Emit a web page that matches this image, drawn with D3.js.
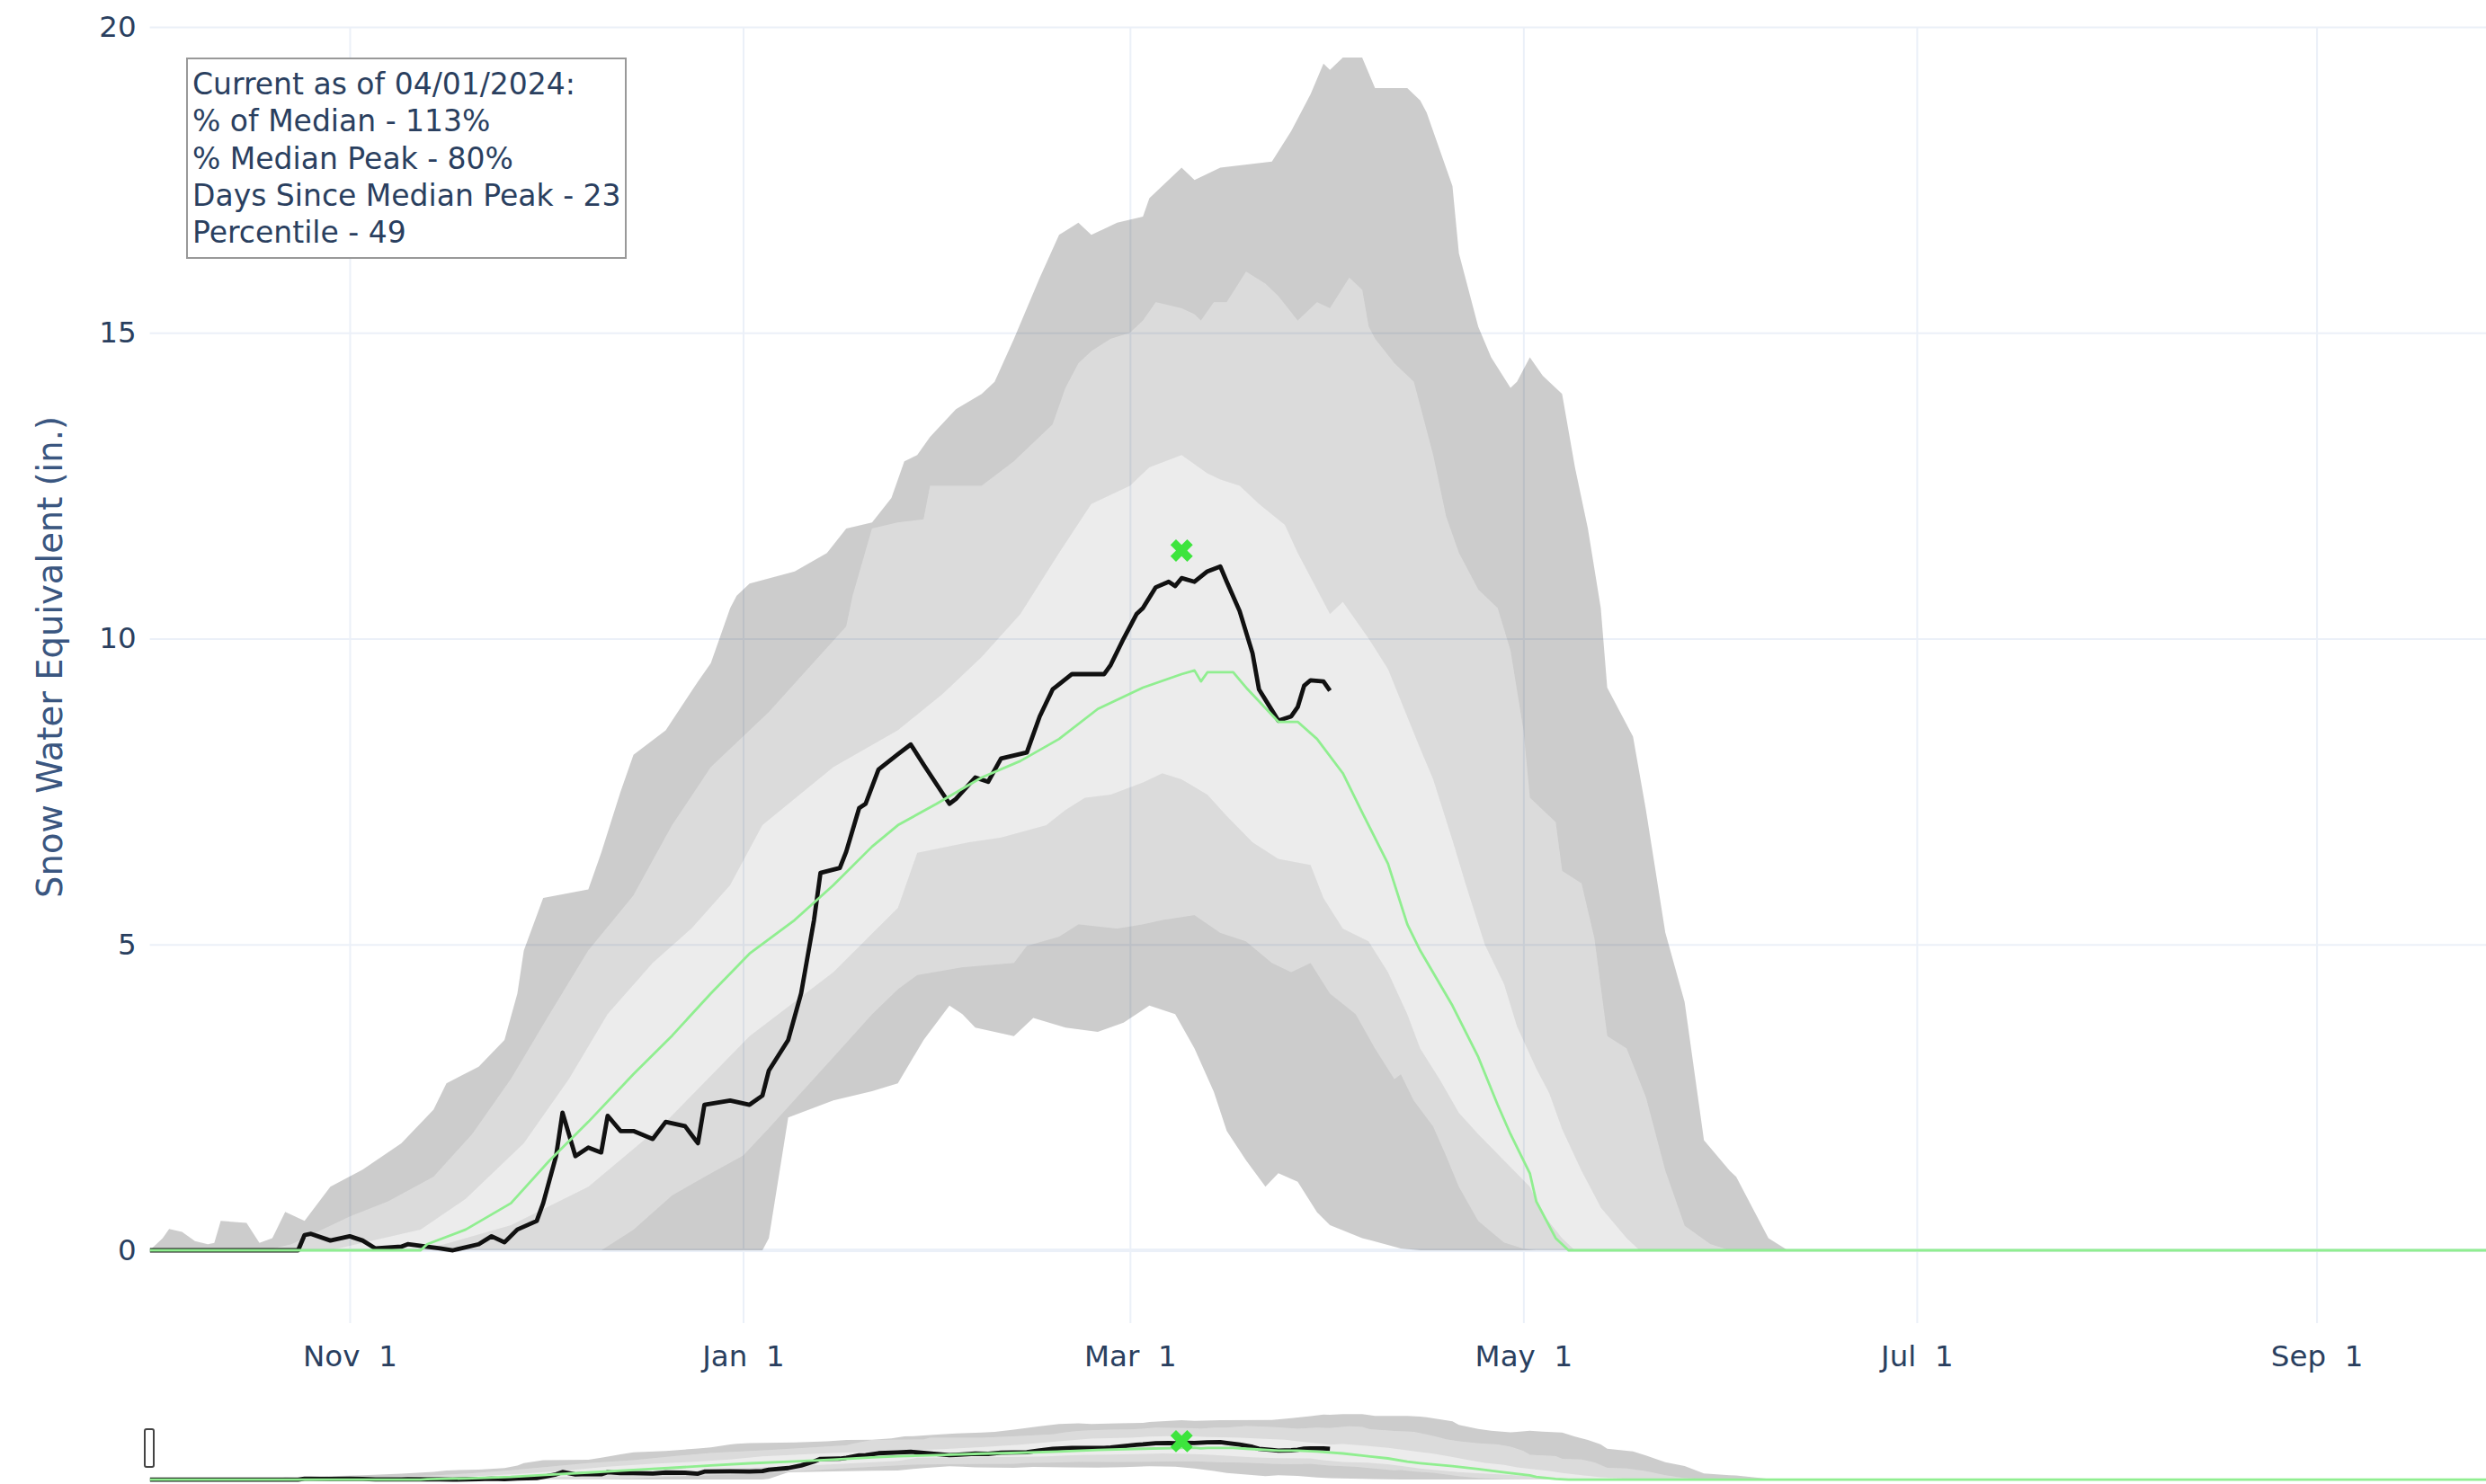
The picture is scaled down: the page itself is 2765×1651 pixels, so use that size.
<!DOCTYPE html>
<html>
<head>
<meta charset="utf-8">
<script src="https://cdn.jsdelivr.net/npm/d3@7"></script>
<style>
  body { margin: 0; background: #fff; }
  svg { display: block; font-family: "DejaVu Sans", Verdana, sans-serif; }
</style>
</head>
<body>
<svg id="chart" width="2765" height="1651"></svg>
<script>
// water year 2024 (Oct 2023 - Sep 2024), dates as MM-DD
const waterYear = 2024;

const maxSwe = [["10-01",0],["10-03",0.2],["10-04",0.35],["10-06",0.3],["10-08",0.15],["10-10",0.1],["10-11",0.12],["10-12",0.48],["10-16",0.45],["10-18",0.12],["10-20",0.2],["10-22",0.63],["10-25",0.48],["10-29",1.04],["11-03",1.32],["11-09",1.75],["11-14",2.3],["11-16",2.73],["11-21",3.0],["11-25",3.44],["11-27",4.2],["11-28",4.9],["12-01",5.76],["12-08",5.9],["12-10",6.5],["12-13",7.5],["12-15",8.1],["12-20",8.5],["12-25",9.3],["12-27",9.6],["12-30",10.5],["12-31",10.7],["01-02",10.9],["01-09",11.1],["01-14",11.4],["01-17",11.8],["01-21",11.9],["01-24",12.3],["01-26",12.9],["01-28",13.0],["01-30",13.3],["02-03",13.75],["02-07",14.0],["02-09",14.2],["02-12",14.9],["02-16",15.9],["02-19",16.6],["02-22",16.8],["02-24",16.6],["02-28",16.8],["03-03",16.9],["03-04",17.2],["03-09",17.7],["03-11",17.5],["03-15",17.7],["03-23",17.8],["03-26",18.3],["03-29",18.9],["03-31",19.4],["04-01",19.3],["04-03",19.5],["04-06",19.5],["04-08",19.0],["04-13",19.0],["04-15",18.8],["04-16",18.6],["04-20",17.4],["04-21",16.3],["04-24",15.1],["04-26",14.6],["04-29",14.1],["04-30",14.2],["05-02",14.6],["05-04",14.3],["05-07",14.0],["05-09",12.8],["05-11",11.8],["05-13",10.5],["05-14",9.2],["05-18",8.4],["05-20",7.2],["05-23",5.2],["05-26",4.06],["05-29",1.8],["06-02",1.3],["06-03",1.2],["06-06",0.6],["06-08",0.2],["06-11",0],["09-30",0]];

const p90 = [["10-01",0],["10-19",0],["10-23",0.1],["10-26",0.25],["11-01",0.55],["11-07",0.8],["11-14",1.2],["11-20",1.9],["11-26",2.8],["12-02",3.86],["12-08",4.9],["12-15",5.8],["12-21",6.95],["12-27",7.9],["01-05",8.8],["01-17",10.2],["01-18",10.7],["01-21",11.8],["01-25",11.9],["01-29",11.95],["01-30",12.5],["02-07",12.5],["02-12",12.9],["02-18",13.5],["02-20",14.1],["02-22",14.5],["02-24",14.7],["02-27",14.9],["03-01",15.0],["03-03",15.2],["03-05",15.5],["03-09",15.4],["03-11",15.3],["03-12",15.2],["03-14",15.5],["03-16",15.5],["03-19",16.0],["03-22",15.8],["03-24",15.6],["03-27",15.2],["03-30",15.5],["04-01",15.4],["04-04",15.9],["04-06",15.7],["04-07",15.1],["04-08",14.9],["04-11",14.5],["04-14",14.2],["04-17",13.0],["04-19",12.0],["04-21",11.4],["04-24",10.8],["04-27",10.5],["04-29",9.8],["05-01",8.5],["05-02",7.4],["05-06",7.0],["05-07",6.2],["05-10",6.0],["05-12",5.1],["05-14",3.5],["05-17",3.3],["05-20",2.5],["05-23",1.3],["05-26",0.4],["05-30",0.1],["06-02",0],["09-30",0]];

const p70 = [["10-01",0],["10-29",0],["11-12",0.34],["11-19",0.84],["11-28",1.75],["12-05",2.8],["12-11",3.86],["12-18",4.7],["12-24",5.26],["12-30",5.97],["01-04",6.95],["01-15",7.9],["01-25",8.5],["02-01",9.1],["02-07",9.7],["02-13",10.4],["02-19",11.4],["02-24",12.2],["03-01",12.5],["03-04",12.8],["03-09",13.0],["03-13",12.7],["03-15",12.6],["03-18",12.5],["03-21",12.2],["03-25",11.86],["03-27",11.4],["03-30",10.8],["04-01",10.4],["04-03",10.6],["04-07",10.0],["04-10",9.5],["04-15",8.2],["04-17",7.7],["04-20",6.7],["04-22",6.0],["04-25",5.0],["04-28",4.35],["04-30",3.66],["05-03",2.97],["05-05",2.57],["05-07",1.98],["05-10",1.3],["05-13",0.7],["05-17",0.2],["05-19",0],["09-30",0]];

const p30 = [["10-01",0],["11-10",0],["11-14",0.05],["11-26",0.41],["12-08",1.04],["12-20",2.1],["01-02",3.5],["01-15",4.55],["01-25",5.6],["01-28",6.5],["02-05",6.67],["02-10",6.75],["02-17",6.95],["02-20",7.2],["02-23",7.4],["02-27",7.45],["03-03",7.65],["03-06",7.8],["03-09",7.7],["03-13",7.45],["03-16",7.1],["03-20",6.67],["03-24",6.4],["03-29",6.3],["03-31",5.76],["04-03",5.26],["04-07",5.05],["04-10",4.55],["04-13",3.86],["04-15",3.3],["04-18",2.8],["04-21",2.25],["04-24",1.9],["04-28",1.47],["05-02",1.04],["05-04",0.6],["05-07",0.2],["05-09",0],["09-30",0]];

const p10 = [["10-01",0],["12-10",0],["12-15",0.34],["12-21",0.9],["12-27",1.26],["01-01",1.55],["01-05",2.0],["01-15",3.16],["01-21",3.86],["01-25",4.27],["01-28",4.5],["02-04",4.63],["02-12",4.7],["02-14",4.98],["02-19",5.13],["02-22",5.33],["02-28",5.26],["03-03",5.33],["03-06",5.4],["03-11",5.48],["03-15",5.19],["03-19",5.05],["03-23",4.7],["03-26",4.55],["03-29",4.7],["04-01",4.2],["04-05",3.86],["04-08",3.3],["04-11",2.8],["04-12",2.88],["04-14",2.45],["04-17",2.03],["04-19",1.55],["04-21",1.04],["04-24",0.48],["04-28",0.13],["05-01",0.03],["05-03",0],["09-30",0]];

const minSwe = [["10-01",0],["01-04",0],["01-05",0.2],["01-08",2.17],["01-15",2.45],["01-21",2.6],["01-25",2.73],["01-29",3.44],["02-02",4.0],["02-04",3.86],["02-06",3.64],["02-12",3.5],["02-15",3.8],["02-20",3.64],["02-25",3.57],["02-29",3.72],["03-04",4.0],["03-08",3.86],["03-11",3.3],["03-14",2.59],["03-16",1.95],["03-19",1.47],["03-22",1.04],["03-24",1.26],["03-27",1.12],["03-30",0.62],["04-01",0.41],["04-06",0.2],["04-12",0.03],["04-15",0],["09-30",0]];

const median = [["10-01",0],["11-12",0],["11-13",0.1],["11-19",0.34],["11-26",0.77],["12-02",1.47],["12-08",2.1],["12-15",2.88],["12-21",3.51],["12-27",4.2],["01-02",4.85],["01-09",5.4],["01-15",5.97],["01-21",6.6],["01-25",6.95],["01-31",7.3],["02-07",7.73],["02-13",8.0],["02-19",8.36],["02-25",8.85],["03-03",9.2],["03-09",9.42],["03-11",9.48],["03-12",9.3],["03-13",9.45],["03-17",9.45],["03-19",9.2],["03-24",8.64],["03-27",8.64],["03-30",8.36],["04-03",7.8],["04-06",7.16],["04-10",6.32],["04-13",5.33],["04-15",4.9],["04-20",4.0],["04-24",3.16],["04-27",2.38],["04-29",1.9],["05-02",1.26],["05-03",0.8],["05-06",0.2],["05-08",0],["09-30",0]];

const current = [["10-01",0],["10-24",0],["10-25",0.25],["10-26",0.27],["10-29",0.16],["11-01",0.23],["11-03",0.16],["11-05",0.03],["11-09",0.06],["11-10",0.1],["11-15",0.03],["11-17",0],["11-21",0.1],["11-23",0.23],["11-25",0.13],["11-27",0.34],["11-30",0.48],["12-01",0.77],["12-03",1.54],["12-04",2.25],["12-06",1.54],["12-08",1.68],["12-10",1.6],["12-11",2.2],["12-13",1.95],["12-15",1.95],["12-18",1.82],["12-20",2.1],["12-23",2.03],["12-25",1.75],["12-26",2.38],["12-30",2.45],["01-02",2.38],["01-04",2.53],["01-05",2.94],["01-08",3.44],["01-10",4.2],["01-12",5.4],["01-13",6.17],["01-16",6.25],["01-17",6.52],["01-19",7.23],["01-20",7.3],["01-22",7.86],["01-25",8.11],["01-27",8.27],["01-29",7.94],["02-02",7.3],["02-03",7.38],["02-06",7.73],["02-08",7.66],["02-10",8.04],["02-14",8.14],["02-16",8.73],["02-18",9.17],["02-21",9.42],["02-26",9.42],["02-27",9.57],["02-29",10.0],["03-02",10.4],["03-03",10.5],["03-05",10.84],["03-07",10.93],["03-08",10.86],["03-09",10.99],["03-11",10.93],["03-13",11.1],["03-15",11.18],["03-16",10.93],["03-18",10.45],["03-20",9.76],["03-21",9.17],["03-23",8.83],["03-24",8.66],["03-26",8.73],["03-27",8.88],["03-28",9.23],["03-29",9.32],["03-31",9.3],["04-01",9.15]];

const medianPeak = [["03-09", 11.44]];

const statLines = [
  "Current as of 04/01/2024:",
  "% of Median - 113%",
  "% Median Peak - 80%",
  "Days Since Median Peak - 23",
  "Percentile - 49"
];
const yTicks = [0, 5, 10, 15, 20];

// band definitions: upper, lower, fill
const bands = [
  [maxSwe, p90, "rgba(0,0,0,0.2)"],
  [p90, p70, "rgba(0,0,0,0.14)"],
  [p70, p30, "rgba(0,0,0,0.075)"],
  [p30, p10, "rgba(0,0,0,0.14)"],
  [p10, minSwe, "rgba(0,0,0,0.2)"]
];

function parseDay(s) {
  const [m, d] = s.split("-").map(Number);
  return new Date(Date.UTC(m >= 10 ? waterYear - 1 : waterYear, m - 1, d));
}
const toPts = arr => arr.map(([d, v]) => ({date: parseDay(d), value: v}));

var svg = d3.select("#chart");
var plotLeft = 166.6, plotRight = 2784.6, plotTop = 30, plotBottom = 1472;
var textColor = "#2a3f5f";

var x = d3.scaleUtc()
    .domain([new Date(Date.UTC(2023, 9, 1)), new Date(Date.UTC(2024, 8, 30))])
    .range([plotLeft, plotRight]);
var y = d3.scaleLinear().domain([-1.19, 20]).range([plotBottom, plotTop]);
var ySlider = d3.scaleLinear().domain([-1.19, 20]).range([1650.5, 1571.5]);

var defs = svg.append("defs");
defs.append("clipPath").attr("id", "clipMain")
  .append("rect").attr("x", plotLeft).attr("y", plotTop)
  .attr("width", plotRight - plotLeft).attr("height", plotBottom - plotTop);
defs.append("clipPath").attr("id", "clipSlider")
  .append("rect").attr("x", plotLeft).attr("y", 1571)
  .attr("width", plotRight - plotLeft).attr("height", 80);

// grid
svg.append("g")
    .attr("transform", "translate(0," + plotBottom + ")")
    .call(d3.axisBottom(x).ticks(d3.utcMonth.every(2)).tickSize(-(plotBottom - plotTop)).tickFormat(""))
    .call(g => g.select(".domain").remove())
    .call(g => g.selectAll("line").attr("stroke", "#ebf0f8").attr("stroke-width", 2));
svg.append("g")
    .attr("transform", "translate(" + plotLeft + ",0)")
    .call(d3.axisLeft(y).tickValues(yTicks.filter(t => t !== 0)).tickSize(-(plotRight - plotLeft)).tickFormat(""))
    .call(g => g.select(".domain").remove())
    .call(g => g.selectAll("line").attr("stroke", "#ebf0f8").attr("stroke-width", 2));
svg.append("line")
    .attr("x1", plotLeft).attr("x2", plotRight)
    .attr("y1", y(0)).attr("y2", y(0))
    .attr("stroke", "#ebf0f8").attr("stroke-width", 4);

function xMarkPath(r) {
  var rx = r * 0.8 / Math.sqrt(2);
  var ne = "l" + rx + "," + rx, se = "l" + rx + ",-" + rx,
      sw = "l-" + rx + ",-" + rx, nw = "l-" + rx + "," + rx;
  return "M0," + rx + ne + se + sw + se + sw + nw + sw + nw + ne + nw + ne + "Z";
}

function drawTraces(g, ys) {
  var line = d3.line().x(d => x(d.date)).y(d => ys(d.value));
  bands.forEach(([upper, lower, fill]) => {
    var pts = toPts(upper).concat(toPts(lower).reverse());
    g.append("path").attr("d", line(pts) + "Z").attr("fill", fill).attr("stroke", "none");
  });
  g.append("path").datum(toPts(current))
    .attr("d", line).attr("fill", "none")
    .attr("stroke", "#111").attr("stroke-width", 4.8).attr("stroke-linejoin", "round");
  g.append("path").datum(toPts(median))
    .attr("d", line).attr("fill", "none")
    .attr("stroke", "#90ee90").attr("stroke-width", 2.8).attr("stroke-linejoin", "round");
  g.selectAll(".peak").data(toPts(medianPeak)).enter()
    .append("path")
    .attr("transform", d => "translate(" + x(d.date) + "," + ys(d.value) + ")")
    .attr("d", xMarkPath(11))
    .attr("fill", "#3de43d");
}

drawTraces(svg.append("g").attr("clip-path", "url(#clipMain)"), y);
drawTraces(svg.append("g").attr("clip-path", "url(#clipSlider)"), ySlider);

// axes labels
svg.append("g")
    .attr("transform", "translate(0," + plotBottom + ")")
    .call(d3.axisBottom(x).ticks(d3.utcMonth.every(2)).tickSize(0).tickPadding(25).tickFormat(d3.utcFormat("%b %e")))
    .call(g => g.select(".domain").remove())
    .call(g => g.selectAll("text")
        .attr("fill", textColor).style("font-size", "32.5px").style("white-space", "pre")
        .attr("font-family", "DejaVu Sans, Verdana, sans-serif"));
svg.append("g")
    .attr("transform", "translate(" + plotLeft + ",0)")
    .call(d3.axisLeft(y).tickValues(yTicks).tickSize(0).tickPadding(15))
    .call(g => g.select(".domain").remove())
    .call(g => g.selectAll("text")
        .attr("fill", textColor).style("font-size", "32.5px")
        .attr("font-family", "DejaVu Sans, Verdana, sans-serif"));

svg.append("text")
    .attr("transform", "translate(56,731) rotate(-90)")
    .attr("text-anchor", "middle")
    .attr("dy", "0.35em")
    .attr("fill", "#3a5680")
    .style("font-size", "38.5px")
    .text("Snow Water Equivalent (in.)");

// stats annotation
var note = svg.append("g");
note.append("rect")
    .attr("x", 208).attr("y", 65).attr("width", 488).attr("height", 222)
    .attr("fill", "#fff").attr("stroke", "#999").attr("stroke-width", 2);
note.selectAll("text").data(statLines).enter()
    .append("text")
    .attr("x", 214)
    .attr("y", (d, i) => 105 + i * 41.3)
    .attr("fill", textColor)
    .style("font-size", "33px")
    .text(d => d);

// range slider grabber
svg.append("rect")
    .attr("x", 161).attr("y", 1590).attr("width", 10).attr("height", 42).attr("rx", 2)
    .attr("fill", "#fff").attr("stroke", "#444").attr("stroke-width", 2);
</script>
</body>
</html>
